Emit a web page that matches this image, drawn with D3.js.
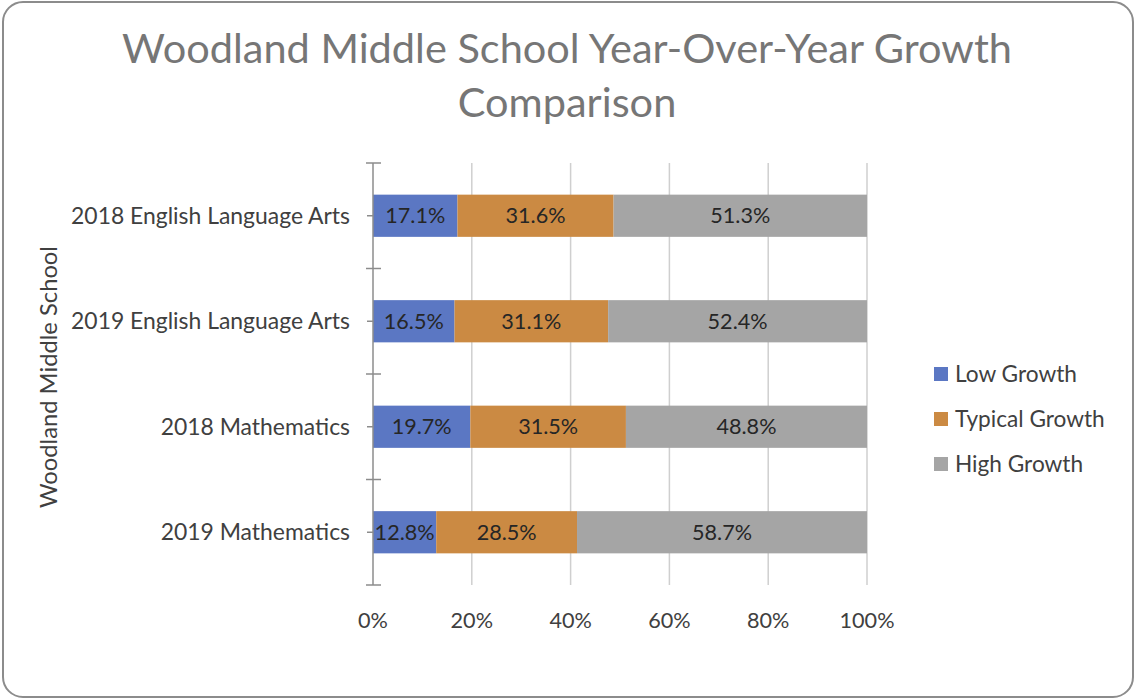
<!DOCTYPE html>
<html>
<head>
<meta charset="utf-8">
<script src="https://cdn.jsdelivr.net/npm/d3@7"></script>
<style>
  html, body { margin: 0; padding: 0; background: #fff; }
  svg { display: block; }
  text { font-family: Lato, "Open Sans", "Liberation Sans", sans-serif; }
</style>
</head>
<body>
<script>
// Chart data
const categories = ["2018 English Language Arts", "2019 English Language Arts", "2018 Mathematics", "2019 Mathematics"];
const seriesNames = ["Low Growth", "Typical Growth", "High Growth"];
const lowGrowth = [17.1, 16.5, 19.7, 12.8];
const typicalGrowth = [31.6, 31.1, 31.5, 28.5];
const highGrowth = [51.3, 52.4, 48.8, 58.7];
const xTickValues = [0, 20, 40, 60, 80, 100];
const titleLines = ["Woodland Middle School Year-Over-Year Growth", "Comparison"];
const yAxisTitle = "Woodland Middle School";

const colors = ["#5B77C3", "#CB8A43", "#A5A5A5"];

const W = 1136, H = 700;
const svg = d3.select("body").append("svg").attr("width", W).attr("height", H);

// Size a text element so its rendered width equals the given width
function fitWidth(sel, width) {
  sel.style("font-size", "100px");
  const w = sel.node().getComputedTextLength();
  sel.style("font-size", (100 * width / w) + "px");
  return 100 * width / w;
}

// Outer frame
svg.append("rect")
  .attr("x", 3).attr("y", 2).attr("width", W - 6).attr("height", H - 5)
  .attr("rx", 20).attr("ry", 20)
  .attr("fill", "#fff").attr("stroke", "#8c8c8c").attr("stroke-width", 2);

// Title
const t1 = svg.append("text").attr("x", 567).attr("y", 63).attr("text-anchor", "middle")
  .attr("fill", "#767676").text(titleLines[0]);
const titleSize = fitWidth(t1, 890);
svg.append("text").attr("x", 567).attr("y", 117).attr("text-anchor", "middle")
  .attr("fill", "#767676").style("font-size", titleSize + "px").text(titleLines[1]);

// Scales
const x = d3.scaleLinear().domain([0, 100]).range([373, 867]);
const y = d3.scaleBand().domain(categories).range([163, 585]).paddingInner(0.6).paddingOuter(0.3);
const step = y.step();

// Vertical gridlines
svg.append("g").selectAll("line").data(xTickValues.filter(v => v > 0)).join("line")
  .attr("x1", d => x(d)).attr("x2", d => x(d))
  .attr("y1", 163).attr("y2", 585)
  .attr("stroke", "#cfcfcf").attr("stroke-width", 1.5);

// Stacked series
const rows = categories.map((c, i) => ({ cat: c, "Low Growth": lowGrowth[i], "Typical Growth": typicalGrowth[i], "High Growth": highGrowth[i] }));
const stacked = d3.stack().keys(seriesNames)(rows);

const layers = svg.append("g").selectAll("g").data(stacked).join("g")
  .attr("fill", (d, i) => colors[i]);
layers.selectAll("rect").data(d => d).join("rect")
  .attr("x", d => x(d[0]))
  .attr("width", d => x(d[1]) - x(d[0]))
  .attr("y", d => y(d.data.cat))
  .attr("height", y.bandwidth());

// Data labels
const labelFmt = v => v.toFixed(1) + "%";
const probe = svg.append("text").text("17.1%");
const labelSize = fitWidth(probe, 60);
probe.remove();
const labelG = svg.append("g");
stacked.forEach(layer => {
  layer.forEach(d => {
    labelG.append("text")
      .attr("x", (x(d[0]) + x(d[1])) / 2)
      .attr("y", y(d.data.cat) + y.bandwidth() / 2)
      .attr("dy", "0.35em")
      .attr("text-anchor", "middle")
      .attr("fill", "#262626")
      .style("font-size", labelSize + "px")
      .text(labelFmt(d[1] - d[0]));
  });
});

// Category axis
const axisG = svg.append("g").attr("stroke", "#8c8c8c").attr("stroke-width", 1.5);
axisG.append("line").attr("x1", 373).attr("x2", 373).attr("y1", 163).attr("y2", 585);
const bounds = d3.range(categories.length + 1).map(i => 163 + i * step);
axisG.selectAll(".bt").data(bounds).join("line")
  .attr("x1", 366).attr("x2", 381)
  .attr("y1", d => d).attr("y2", d => d);
axisG.selectAll(".ct").data(categories).join("line")
  .attr("x1", 367).attr("x2", 373)
  .attr("y1", d => y(d) + y.bandwidth() / 2).attr("y2", d => y(d) + y.bandwidth() / 2);

const probeCat = svg.append("text").text(categories[0]);
const catSize = fitWidth(probeCat, 279);
probeCat.remove();
svg.append("g").selectAll("text").data(categories).join("text")
  .attr("x", 350)
  .attr("y", d => y(d) + y.bandwidth() / 2)
  .attr("dy", "0.35em")
  .attr("text-anchor", "end")
  .attr("fill", "#404040")
  .style("font-size", catSize + "px")
  .text(d => d);

// Value axis labels
const probeX = svg.append("text").text("100%");
const xSize = fitWidth(probeX, 55);
probeX.remove();
svg.append("g").selectAll("text").data(xTickValues).join("text")
  .attr("x", d => x(d))
  .attr("y", 628)
  .attr("text-anchor", "middle")
  .attr("fill", "#404040")
  .style("font-size", xSize + "px")
  .text(d => d + "%");

// Vertical axis title
const yt = svg.append("text")
  .attr("transform", "translate(57,377) rotate(-90)")
  .attr("text-anchor", "middle")
  .attr("fill", "#404040")
  .text(yAxisTitle);
fitWidth(yt, 262);

// Legend
const probeL = svg.append("text").text(seriesNames[0]);
const legSize = fitWidth(probeL, 122);
probeL.remove();
const legend = svg.append("g").selectAll("g").data(seriesNames).join("g")
  .attr("transform", (d, i) => `translate(934, ${374 + i * 45})`);
legend.append("rect").attr("x", 0).attr("y", -7).attr("width", 14).attr("height", 14)
  .attr("fill", (d, i) => colors[i]);
legend.append("text").attr("x", 21).attr("y", 0).attr("dy", "0.35em")
  .attr("fill", "#404040").style("font-size", legSize + "px").text(d => d);
</script>
</body>
</html>
